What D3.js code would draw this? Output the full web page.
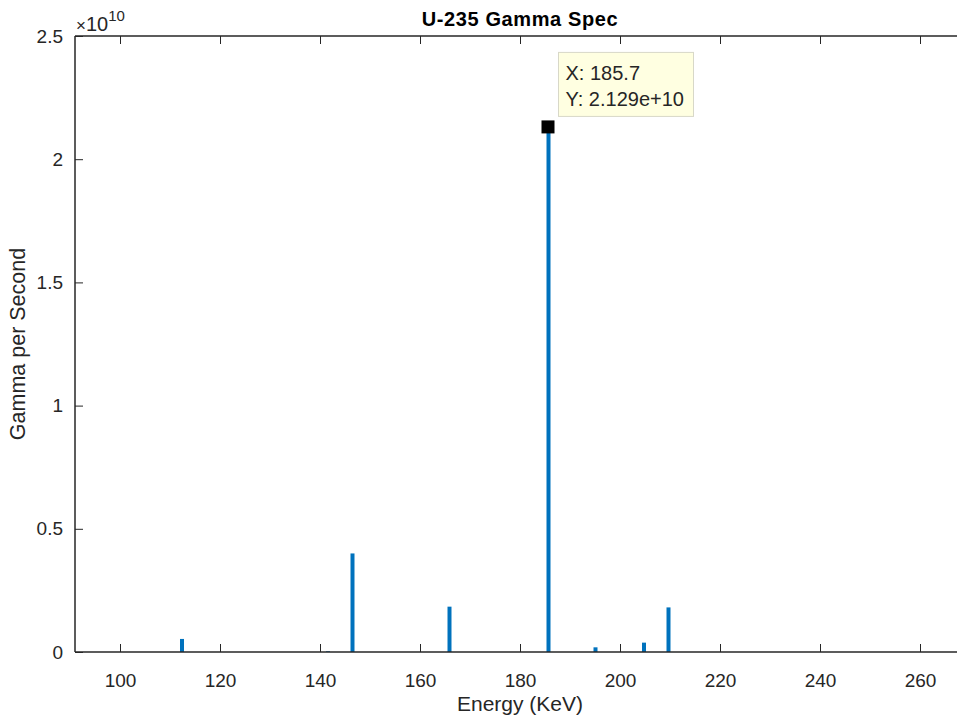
<!DOCTYPE html>
<html>
<head>
<meta charset="utf-8">
<script src="https://cdn.jsdelivr.net/npm/d3@7"></script>
<style>
  body { margin: 0; background: #fff; }
  text { font-family: "Liberation Sans", Arial, sans-serif; }
</style>
</head>
<body>
<div id="chart"></div>
<script>
// peaks
var energies = [112.4, 141.6, 146.5, 165.9, 185.7, 195.1, 204.8, 209.7];
var gammas = [5.3e8, 3e7, 4.0e9, 1.84e9, 2.129e10, 1.9e8, 3.8e8, 1.81e9];
var xTicks = [100, 120, 140, 160, 180, 200, 220, 240, 260];
var yTicks = [0, 0.5e10, 1e10, 1.5e10, 2e10, 2.5e10];
var tipX = 185.7, tipY = 2.129e10;

var width = 957, height = 719;
var margin = {top: 36, right: -3, bottom: 67, left: 75};

var svg = d3.select("#chart").append("svg")
  .attr("width", width)
  .attr("height", height);

var x = d3.scaleLinear().domain([91, 268]).range([margin.left, width - margin.right]);
var y = d3.scaleLinear().domain([0, 2.5e10]).range([height - margin.bottom, margin.top]);

var axisColor = "#262626";

// stems
svg.append("g")
  .selectAll("line")
  .data(energies)
  .join("line")
    .attr("x1", function(d) { return x(d); })
    .attr("x2", function(d) { return x(d); })
    .attr("y1", y(0))
    .attr("y2", function(d, i) { return y(gammas[i]); })
    .attr("stroke", "#0072BD")
    .attr("stroke-width", 4);

// box lines
svg.append("line")
  .attr("x1", x(91)).attr("x2", x(268))
  .attr("y1", y(0)).attr("y2", y(0))
  .attr("stroke", axisColor).attr("stroke-width", 1.5);
svg.append("line")
  .attr("x1", x(91)).attr("x2", x(268))
  .attr("y1", y(2.5e10)).attr("y2", y(2.5e10))
  .attr("stroke", axisColor).attr("stroke-width", 1.5);
svg.append("line")
  .attr("x1", x(91)).attr("x2", x(91))
  .attr("y1", y(0)).attr("y2", y(2.5e10))
  .attr("stroke", axisColor).attr("stroke-width", 1.5);

// bottom axis (ticks pointing inward)
var xAxis = svg.append("g")
  .attr("transform", "translate(0," + y(0) + ")")
  .call(d3.axisBottom(x).tickValues(xTicks).tickSizeInner(-8).tickSizeOuter(0).tickPadding(22));
xAxis.select(".domain").remove();
xAxis.selectAll("line").attr("stroke", axisColor);
xAxis.selectAll("text").attr("font-size", 19).attr("fill", axisColor);

// top ticks
svg.append("g")
  .attr("transform", "translate(0," + y(2.5e10) + ")")
  .call(d3.axisTop(x).tickValues(xTicks).tickSizeInner(-8).tickSizeOuter(0).tickFormat(""))
  .call(function(g) { g.select(".domain").remove(); g.selectAll("line").attr("stroke", axisColor); });

// left axis
var yAxis = svg.append("g")
  .attr("transform", "translate(" + x(91) + ",0)")
  .call(d3.axisLeft(y).tickValues(yTicks).tickSizeInner(-8).tickSizeOuter(0).tickPadding(12)
    .tickFormat(function(d) { return d3.format("~g")(d / 1e10); }));
yAxis.select(".domain").remove();
yAxis.selectAll("line").attr("stroke", axisColor);
yAxis.selectAll("text").attr("font-size", 19).attr("fill", axisColor);

// exponent
var expo = svg.append("text")
  .attr("x", x(91) + 1)
  .attr("y", 31)
  .attr("font-size", 20)
  .attr("fill", axisColor);
expo.append("tspan").attr("font-size", 17).text("\u00d7");
expo.append("tspan").text("10");
expo.append("tspan").attr("dy", -10).attr("font-size", 15).text("10");

// title
svg.append("text")
  .attr("x", 520)
  .attr("y", 26)
  .attr("text-anchor", "middle")
  .attr("font-size", 20)
  .attr("letter-spacing", 0.6)
  .attr("font-weight", "bold")
  .attr("fill", "#000")
  .text("U-235 Gamma Spec");

// axis labels
svg.append("text")
  .attr("x", 520)
  .attr("y", 711)
  .attr("text-anchor", "middle")
  .attr("font-size", 21)
  .attr("fill", axisColor)
  .text("Energy (KeV)");

svg.append("text")
  .attr("transform", "translate(25," + ((y(0) + y(2.5e10)) / 2) + ") rotate(-90)")
  .attr("text-anchor", "middle")
  .attr("font-size", 21.5)
  .attr("fill", axisColor)
  .text("Gamma per Second");

// data tip
svg.append("rect")
  .attr("x", x(tipX) - 7)
  .attr("y", y(tipY) - 7)
  .attr("width", 13)
  .attr("height", 13)
  .attr("fill", "#000");

var tip = svg.append("g").attr("transform", "translate(" + (x(tipX) + 10) + "," + (y(tipY) - 75) + ")");
tip.append("rect")
  .attr("width", 135)
  .attr("height", 64)
  .attr("fill", "#ffffe1")
  .attr("stroke", "#d8d8c8");
tip.append("text").attr("x", 7).attr("y", 28).attr("font-size", 20).attr("fill", axisColor).text("X: " + tipX);
tip.append("text").attr("x", 7).attr("y", 54).attr("font-size", 20).attr("fill", axisColor).text("Y: " + d3.format(".3e")(tipY));
</script>
</body>
</html>
